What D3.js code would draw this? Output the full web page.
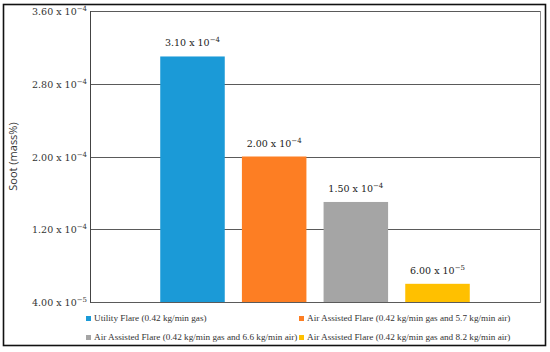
<!DOCTYPE html>
<html>
<head>
<meta charset="utf-8">
<script src="https://cdn.jsdelivr.net/npm/d3@7"></script>
<style>
  body { margin: 0; background: #fff; }
  svg text { font-family: "DejaVu Serif", "Liberation Serif", serif; }
</style>
</head>
<body>
<svg id="chart" width="550" height="352"></svg>
<script>
// data
var series = [
    "Utility Flare (0.42 kg/min gas)",
    "Air Assisted Flare (0.42 kg/min gas and 5.7 kg/min air)",
    "Air Assisted Flare (0.42 kg/min gas and 6.6 kg/min air)",
    "Air Assisted Flare (0.42 kg/min gas and 8.2 kg/min air)"
];
var values = [3.10e-4, 2.00e-4, 1.50e-4, 6.00e-5];
var colors = ["#1b9ad7", "#fd7e23", "#a5a5a5", "#ffc000"];
var yTicks = [4.0e-5, 1.2e-4, 2.0e-4, 2.8e-4, 3.6e-4];

var svg = d3.select("#chart"),
    width = +svg.attr("width"),
    height = +svg.attr("height");

var margin = {top: 11, right: 10, bottom: 50, left: 90};
var plotW = width - margin.left - margin.right,
    plotH = height - margin.top - margin.bottom;

// outer frame
svg.append("rect")
    .attr("x", 3.5).attr("y", 4.5)
    .attr("width", 542).attr("height", 341)
    .attr("fill", "none")
    .attr("stroke", "#111")
    .attr("stroke-width", 1.6);

var g = svg.append("g")
    .attr("transform", "translate(" + margin.left + "," + margin.top + ")");

var x = d3.scaleBand()
    .domain(series)
    .range([0, plotW])
    .paddingInner(0.21)
    .paddingOuter(0.86);

var y = d3.scaleLinear()
    .domain([4.0e-5, 3.6e-4])
    .range([plotH, 0]);

// plot border (right / bottom lighter)
g.append("rect")
    .attr("x", 0.5).attr("y", 0.5)
    .attr("width", plotW).attr("height", plotH)
    .attr("fill", "none")
    .attr("stroke", "#8c8c8c")
    .attr("stroke-width", 1);

// gridlines
g.append("g")
    .selectAll("line")
    .data(yTicks)
    .enter().append("line")
    .attr("x1", 0).attr("x2", plotW)
    .attr("y1", function(d) { return Math.round(y(d)) + 0.5; })
    .attr("y2", function(d) { return Math.round(y(d)) + 0.5; })
    .attr("stroke", "#5a5a5a")
    .attr("stroke-width", 1);

// left axis line
g.append("line")
    .attr("x1", 0.5).attr("x2", 0.5)
    .attr("y1", 0).attr("y2", plotH + 0.5)
    .attr("stroke", "#444");

function sciParts(v) {
    var e = Math.floor(Math.log10(v) + 1e-9);
    var m = v / Math.pow(10, e);
    return {m: m.toFixed(2), e: e};
}

function sciText(sel) {
    sel.each(function(d) {
        var p = sciParts(d);
        var t = d3.select(this);
        t.append("tspan").text(p.m + " x 10");
        t.append("tspan")
            .attr("dy", -4)
            .attr("font-size", "7px")
            .text("\u2212" + Math.abs(p.e));
    });
}

// y tick labels
g.append("g")
    .selectAll("text")
    .data(yTicks)
    .enter().append("text")
    .attr("x", -3)
    .attr("y", function(d) { return y(d) + 4; })
    .attr("text-anchor", "end")
    .attr("font-size", "9.5px")
    .attr("fill", "#333")
    .call(sciText);

// bars
g.append("g")
    .selectAll("rect")
    .data(values)
    .enter().append("rect")
    .attr("x", function(d, i) { return x(series[i]); })
    .attr("y", function(d) { return y(d); })
    .attr("width", x.bandwidth())
    .attr("height", function(d) { return plotH - y(d); })
    .attr("fill", function(d, i) { return colors[i]; });

// value labels
g.append("g")
    .selectAll("text")
    .data(values)
    .enter().append("text")
    .attr("x", function(d, i) { return x(series[i]) + x.bandwidth() / 2; })
    .attr("y", function(d) { return y(d) - 10; })
    .attr("text-anchor", "middle")
    .attr("font-size", "9.5px")
    .attr("fill", "#222")
    .call(sciText);

// y axis title
svg.append("text")
    .attr("transform", "translate(17," + (margin.top + plotH / 2) + ") rotate(-90)")
    .attr("text-anchor", "middle")
    .attr("font-size", "11px")
    .style("font-family", "'Open Sans', 'DejaVu Sans', sans-serif")
    .attr("fill", "#333")
    .text("Soot (mass%)");

// legend
var legendPos = [[86, 321], [299, 321], [86, 340], [299, 340]];
var legend = svg.append("g")
    .selectAll("g")
    .data(series)
    .enter().append("g")
    .attr("transform", function(d, i) {
        return "translate(" + legendPos[i][0] + "," + legendPos[i][1] + ")";
    });
legend.append("rect")
    .attr("x", 0).attr("y", -5)
    .attr("width", 5).attr("height", 5)
    .attr("fill", function(d, i) { return colors[i]; });
legend.append("text")
    .attr("x", 8).attr("y", 0)
    .attr("font-size", "9.2px")
    .attr("fill", "#333")
    .style("font-family", "'Liberation Serif', 'DejaVu Serif', serif")
    .text(function(d) { return d; });
</script>
</body>
</html>
